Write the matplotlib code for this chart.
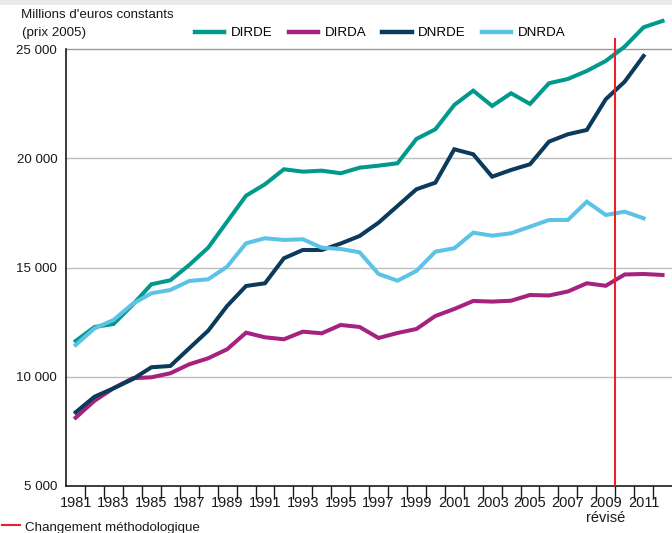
import matplotlib
matplotlib.use("Agg")
import matplotlib.pyplot as plt
from matplotlib.lines import Line2D
from matplotlib.patches import Rectangle
from matplotlib.ticker import FuncFormatter

plt.rcParams["font.family"] = ["Liberation Sans", "DejaVu Sans"]

years = list(range(1981, 2013))

# millions d'euros constants (prix 2005)
dirde = [11635, 12277, 12414, 13285, 14233, 14417, 15118, 15910, 17101, 18293,
         18815, 19502, 19392, 19438, 19319, 19575, 19667, 19777, 20890, 21335,
         22448, 23103, 22402, 22984, 22494, 23442, 23639, 24006, 24464, 25119,
         26008, 26297]
dirda = [8122, 8900, 9469, 9927, 9972, 10156, 10568, 10843, 11255, 12016,
         11805, 11713, 12062, 11988, 12369, 12277, 11773, 12002, 12185, 12781,
         13102, 13468, 13440, 13480, 13743, 13720, 13903, 14279, 14165, 14682,
         14705, 14659]
dnrde = [8369, 9084, 9469, 9881, 10431, 10490, 11301, 12107, 13239, 14155,
         14279, 15424, 15805, 15805, 16100, 16446, 17056, 17821, 18586, 18888,
         20418, 20189, 19163, 19470, 19731, 20767, 21106, 21303, 22709, 23515,
         24693]
dnrda = [11452, 12217, 12598, 13331, 13821, 13972, 14384, 14462, 15040, 16112,
         16341, 16263, 16295, 15910, 15850, 15699, 14705, 14398, 14843, 15727,
         15883, 16597, 16460, 16570, 16872, 17179, 17179, 18018, 17408, 17559,
         17257]

series = [
    ("DIRDE", dirde, "#00998c"),
    ("DIRDA", dirda, "#a5227f"),
    ("DNRDE", dnrde, "#0b3a5b"),
    ("DNRDA", dnrda, "#5cc3e6"),
]

label_years = list(range(1981, 2012, 2))
break_year = 2009.5

fig = plt.figure(figsize=(6.72, 5.33), dpi=100)
ax = fig.add_axes([0.0985, 0.0885, 0.9015, 0.901])

for name, vals, color in series:
    ax.plot(years[:len(vals)], vals, color=color, linewidth=2.9,
            solid_joinstyle="miter", label=name, zorder=3)

# changement methodologique
ax.vlines(break_year, 5000, 25500, color="#e8212b", linewidth=1.5, zorder=4)

ax.set_xlim(1980.5, 2012.5)
ax.set_ylim(5000, 27000)

ax.set_yticks([5000, 10000, 15000, 20000, 25000])
ax.yaxis.set_major_formatter(FuncFormatter(lambda v, p: f"{int(v):,}".replace(",", " ")))
ax.tick_params(axis="y", length=0, pad=6.5, labelsize=9.6, colors="#1a1a1a")
for v in [10000, 15000, 20000]:
    ax.axhline(v, color="#bdbdbd", linewidth=1.0, zorder=1)
ax.axhline(25000, color="#9a9a9a", linewidth=1.0, zorder=1)

# ticks between the years, labels on odd years
ax.set_xticks([y + 0.5 for y in range(1981, 2012)])
ax.set_xticklabels([])
ax.set_xticks(label_years, minor=True)
ax.set_xticklabels([f"{y}\nrévisé" if y == 2009 else str(y) for y in label_years],
                   minor=True, va="top", linespacing=1.15)
ax.tick_params(axis="x", which="major", length=9, width=1.0, color="#1a1a1a")
ax.tick_params(axis="x", which="minor", length=0, pad=7, labelsize=9.6,
               colors="#1a1a1a")
for lbl in ax.get_xticklabels(minor=True):
    lbl.set_family(["Liberation Sans Narrow", "Liberation Sans"])
    lbl.set_fontsize(10.5)

for side in ["top", "right"]:
    ax.spines[side].set_visible(False)
ax.spines["left"].set_bounds(5000, 25000)
ax.spines["left"].set_linewidth(1.2)
ax.spines["bottom"].set_linewidth(1.2)
ax.spines["left"].set_color("#1a1a1a")
ax.spines["bottom"].set_color("#1a1a1a")

fig.text(0.031, 0.972, "Millions d'euros constants", fontsize=9.6,
         va="center", ha="left", color="#1a1a1a")
fig.text(0.032, 0.938, "(prix 2005)", fontsize=9.6,
         va="center", ha="left", color="#1a1a1a")

leg = fig.legend(loc="center left", bbox_to_anchor=(0.29, 0.938), ncol=4,
                 frameon=False, fontsize=9.6, handlelength=2.2,
                 handletextpad=0.5, columnspacing=1.2, borderpad=0,
                 borderaxespad=0)
for h in leg.legend_handles:
    h.set_linewidth(3.2)

# band at the top of the figure
fig.patches.append(Rectangle((0, 0.991), 1, 0.009, transform=fig.transFigure,
                             facecolor="#e9eaea", edgecolor="none"))

# note under the chart
fig.add_artist(Line2D([0.003, 0.03], [0.015, 0.015], transform=fig.transFigure,
                      color="#e8212b", linewidth=1.5))
fig.text(0.037, 0.004, "Changement méthodologique", fontsize=9.6,
         va="baseline", ha="left", color="#1a1a1a",
         family=["Liberation Sans Narrow", "Liberation Sans"])

fig.savefig("out.png", dpi=100)
